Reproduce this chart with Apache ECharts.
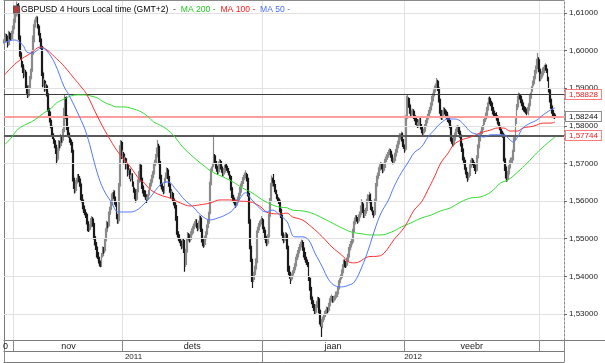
<!DOCTYPE html>
<html><head><meta charset="utf-8">
<script src="https://cdn.jsdelivr.net/npm/echarts@6/dist/echarts.min.js"></script>
<style>html,body{margin:0;padding:0;background:#fff}#c{width:605px;height:363px}</style>
</head><body><div id="c"></div>
<script>
// ---- axis labels / layout of the time table ----
const monthLabels = ['0','nov','dets','jaan','veebr',''];
const monthBars = [9,102,131,133,127,23];
const yearLabels = ['2011','2012'];
const yearBars = [242,283];
const yTicks = [1.53,1.54,1.55,1.56,1.57,1.58,1.59,1.60,1.61];
const yMin = 1.5231, yMax = 1.6134;
const levels = [1.58828, 1.58244, 1.57744];

// ---- 4h candles, values in pips above 1.5000 ----
const firstOpen = 1020;
const closes = [
1028,1038,1030,1016,1045,1038,1032,1046,1058,1075,
1092,1112,1122,1098,1030,985,962,950,935,942,
905,893,880,902,925,945,990,1030,1068,1080,
1086,1065,1045,1030,1010,940,910,918,898,905,
885,845,830,810,795,772,760,748,732,712,
735,755,748,770,762,785,840,875,820,790,
775,762,755,735,660,640,628,648,655,665,
658,645,610,598,580,570,565,545,528,525,
532,548,552,540,505,490,478,458,448,436,
428,455,472,468,495,520,540,535,565,578,
590,612,622,608,592,560,548,640,740,755,
720,725,705,712,690,695,672,680,660,668,
645,630,612,605,625,650,672,695,660,640,
628,620,612,605,610,622,640,650,662,672,
695,700,718,735,745,705,665,640,632,628,
655,668,682,665,645,630,615,620,605,595,
588,555,512,505,495,488,480,495,470,432,
465,495,510,505,498,512,520,532,538,545,
535,528,540,555,525,498,488,485,500,512,
530,545,570,650,685,695,720,705,692,685,
678,698,705,690,682,672,680,695,690,682,
675,665,635,615,608,602,595,590,598,605,
615,630,645,652,662,668,670,660,620,550,
480,445,400,392,405,420,440,520,530,540,
545,550,530,522,505,495,488,505,560,600,
640,660,650,640,625,612,605,600,578,562,
515,502,496,505,510,480,420,405,395,400,
410,418,428,445,452,462,470,478,485,490,
475,458,445,438,432,395,370,345,335,325,
315,305,318,328,340,310,280,268,285,292,
300,305,312,310,322,335,340,345,336,340,
344,352,358,370,388,398,410,425,438,432,
430,442,452,470,478,486,495,525,545,555,
552,548,558,565,580,592,575,562,568,575,
600,610,615,598,578,568,565,600,640,660,
668,682,690,697,690,682,695,710,716,722,
728,732,722,712,705,708,720,730,742,752,
765,772,778,760,745,738,820,865,872,855,
840,830,835,838,826,820,810,802,808,815,
798,788,782,786,798,808,818,825,835,842,
855,872,885,895,905,918,900,870,840,828,
822,835,842,838,835,825,818,808,795,760,
752,762,775,785,792,795,785,775,752,738,
715,705,685,672,662,668,690,702,708,702,
695,688,682,715,742,765,778,785,795,810,
818,828,842,856,872,865,860,848,838,832,
830,822,815,805,795,785,780,775,712,690,
668,658,672,688,702,708,714,735,768,812,
850,872,880,878,868,860,850,845,842,840,
835,848,858,880,898,912,925,940,952,968,
975,950,925,930,936,948,955,960,948,925,
895,870,852,840,832,828,824];
const highs = [
1035,1046,1044,1036,1052,1050,1042,1052,1066,1084,
1100,1118,1130,1126,1104,1040,995,972,958,950,
948,915,900,908,932,952,998,1040,1075,1088,
1092,1090,1070,1052,1036,1015,948,925,922,912,
910,892,852,838,816,800,780,766,755,738,
742,762,760,778,775,792,848,884,878,828,
798,782,768,760,740,668,648,655,662,672,
672,665,650,618,604,588,578,570,552,535,
540,555,560,558,545,512,496,484,465,452,
442,462,480,478,502,528,548,545,572,585,
598,620,630,628,612,598,566,648,748,762,
760,735,730,718,716,702,700,688,686,674,
674,652,636,618,632,658,680,702,698,665,
646,636,628,618,618,630,648,658,670,680,
702,710,725,742,762,752,712,670,648,640,
662,676,690,688,670,650,636,628,625,610,
602,595,560,520,512,502,495,502,500,476,
472,502,518,515,508,520,528,540,546,552,
552,542,548,562,560,530,505,495,508,520,
538,552,578,658,692,702,776,725,710,698,
692,705,712,710,696,688,688,702,700,694,
688,680,670,640,622,615,608,600,605,612,
622,638,652,660,670,676,682,675,665,628,
556,488,452,408,412,428,448,528,538,548,
552,560,555,536,528,510,500,512,566,608,
648,668,672,656,645,630,618,610,605,585,
568,522,508,512,518,516,486,428,412,408,
416,425,435,452,460,470,478,486,492,498,
496,482,465,452,445,438,400,376,352,342,
332,322,325,335,346,345,315,286,292,300,
308,312,320,318,330,342,348,352,348,346,
350,360,365,378,395,405,418,432,445,445,
440,450,460,478,486,494,502,532,552,563,
562,558,565,572,588,605,598,580,575,582,
606,618,625,620,602,585,575,606,648,668,
676,690,698,704,702,694,702,718,724,730,
736,740,738,728,718,715,728,738,750,760,
772,780,785,782,765,750,828,880,882,876,
862,848,842,846,844,832,826,818,815,822,
822,805,795,792,805,815,825,832,842,850,
862,880,892,902,912,927,922,905,875,848,
835,842,850,848,842,840,830,825,815,800,
768,770,782,792,800,802,800,790,780,758,
742,722,710,690,678,675,698,710,715,714,
708,702,695,722,750,772,785,792,802,818,
825,835,850,862,876,878,870,865,852,845,
840,836,828,820,810,800,792,785,780,718,
695,675,680,695,710,716,722,742,775,820,
858,880,888,886,882,872,865,855,852,850,
846,855,865,888,905,920,932,948,960,978,
993,982,955,938,945,955,962,966,963,952,
930,900,875,858,845,838,834];
const lows = [
1012,1022,1024,1008,1012,1030,1026,1026,1040,1052,
1068,1086,1105,1090,1022,975,955,940,926,930,
898,885,874,876,896,918,940,984,1022,1060,
1074,1058,1040,1022,1004,932,902,904,890,892,
878,838,822,800,788,765,752,740,725,698,
705,728,740,742,755,755,780,832,812,782,
768,755,748,728,652,632,620,622,642,648,
650,638,602,590,572,562,555,538,520,518,
520,528,542,532,498,482,470,450,440,428,
424,425,450,460,462,490,514,528,530,558,
570,585,605,600,585,552,540,540,632,732,
712,712,698,700,684,685,665,666,652,655,
638,622,605,596,600,620,645,668,652,632,
620,612,604,595,598,604,615,632,645,655,
665,688,695,712,728,698,658,632,625,618,
620,648,660,658,638,622,608,606,598,588,
580,548,505,496,488,480,472,474,462,412,
425,458,488,498,490,492,505,514,525,532,
528,520,522,535,518,490,480,476,478,494,
505,522,540,565,642,678,690,698,686,678,
670,672,692,684,675,665,665,675,682,675,
668,658,628,608,600,594,588,582,585,592,
598,608,622,638,645,655,660,652,612,540,
472,438,385,369,385,398,412,435,515,522,
532,538,525,515,498,488,480,482,500,552,
594,632,645,632,618,605,598,592,570,555,
508,495,488,490,500,472,412,398,380,388,
392,402,412,422,438,445,455,464,472,478,
468,450,438,430,425,388,362,338,326,316,
308,298,300,312,322,302,272,239,262,278,
285,292,298,302,305,316,328,334,330,330,
334,338,345,352,365,382,392,404,418,425,
422,424,436,446,462,470,480,490,518,538,
545,540,542,550,560,575,568,555,555,560,
570,594,604,590,572,562,556,560,594,632,
652,662,675,684,684,674,676,688,704,710,
715,722,715,705,698,698,702,714,724,735,
745,758,765,752,738,728,732,812,858,848,
832,822,822,828,818,812,802,794,795,800,
790,780,774,776,780,792,800,812,818,828,
835,848,865,878,888,898,892,862,832,820,
815,815,828,830,826,818,810,800,788,752,
745,745,755,768,778,785,778,768,745,730,
708,698,678,664,651,655,662,684,695,695,
688,680,672,678,708,735,758,770,778,788,
802,810,820,835,850,858,852,840,830,825,
822,815,808,798,788,778,772,768,705,680,
660,651,652,665,682,695,700,708,730,762,
805,842,865,870,860,852,842,838,835,832,
828,828,840,852,872,890,905,918,932,945,
960,942,918,918,925,930,940,948,940,918,
888,862,845,832,825,820,818];

// ---- moving averages: [bar index, pips above 1.5000] ----
const ma50 = [[0,1020],[9,1028],[17,1015],[21,996],[26,993],[31,1001],[34,1007],[39,1001],[47,967],[56,903],[60,884],[70,826],[77,778],[87,675],[93,630],[100,598],[107,571],[118,571],[124,576],[130,590],[137,611],[146,643],[153,651],[161,630],[169,603],[177,584],[184,563],[193,550],[200,555],[207,563],[214,576],[220,603],[226,622],[232,603],[239,582],[245,571],[251,576],[258,563],[265,545],[267,531],[272,505],[279,505],[285,497],[291,462],[298,425],[304,391],[310,375],[316,372],[323,377],[328,385],[335,425],[341,470],[347,523],[353,568],[360,603],[365,637],[372,675],[378,701],[384,728],[391,744],[397,770],[403,789],[409,807],[416,818],[421,818],[426,815],[431,802],[437,784],[444,776],[449,770],[456,776],[462,776],[468,776],[474,762],[477,757],[481,770],[486,794],[493,807],[499,815],[505,829],[512,842],[516,847]];
const ma100 = [[0,935],[7,956],[12,969],[19,983],[25,993],[31,1007],[34,1009],[40,1001],[47,983],[53,967],[59,948],[65,927],[72,903],[77,884],[87,826],[96,778],[107,728],[118,691],[127,656],[130,651],[137,630],[146,616],[155,608],[165,595],[174,587],[183,590],[193,595],[202,603],[211,603],[220,600],[230,598],[239,587],[248,568],[258,566],[265,568],[270,558],[279,550],[288,531],[298,505],[307,478],[316,457],[323,438],[327,436],[332,438],[341,452],[351,454],[356,462],[365,497],[375,531],[384,576],[391,598],[397,630],[403,664],[409,701],[416,728],[421,749],[428,762],[437,770],[446,781],[456,789],[462,794],[468,794],[474,786],[481,786],[486,794],[496,799],[505,807],[512,807],[516,810]];
const ma200 = [[0,749],[7,770],[12,789],[19,802],[25,810],[31,821],[37,834],[44,847],[49,861],[56,871],[62,879],[68,882],[74,882],[81,879],[87,874],[93,863],[100,855],[105,850],[112,850],[118,847],[124,842],[130,834],[135,823],[140,810],[149,797],[158,776],[167,744],[177,717],[186,696],[195,677],[205,664],[214,651],[223,635],[232,622],[242,603],[251,590],[258,584],[265,582],[270,576],[279,574],[288,568],[298,555],[307,542],[316,529],[325,518],[335,513],[344,510],[353,510],[363,518],[372,531],[381,542],[391,555],[400,563],[409,574],[418,582],[428,598],[437,608],[446,611],[456,624],[465,648],[472,656],[481,677],[490,701],[499,728],[509,754],[516,770]];

// ---- build ----
const P = v => +(1.5 + v / 10000).toFixed(5);
const categories = [];
const monthStart = [];
monthBars.forEach((n, m) => { monthStart.push(categories.length); for (let k = 0; k < n; k++) categories.push(m + '-' + k); });
const monthLabelAt = {};
monthBars.forEach((n, m) => { const idx = m === 0 ? 1 : monthStart[m] + Math.floor(n / 2); monthLabelAt[idx] = monthLabels[m]; });
const yearStart = []; const yearLabelAt = {};
{ let a = 0; yearBars.forEach((n, y) => { yearStart.push(a); yearLabelAt[a + Math.floor(n / 2)] = yearLabels[y]; a += n; }); }
const mStartSet = new Set(monthStart), yStartSet = new Set(yearStart);

const candles = closes.map((c, i) => {
  const o = i === 0 ? firstOpen : closes[i - 1];
  return [P(o), P(c), P(lows[i]), P(highs[i])];
});
const maLine = arr => arr.map(d => [d[0], P(d[1])]);
const fmt = v => v.toFixed(5).replace('.', ',');
const FF = 'Liberation Sans, Arial, sans-serif';

const levelStyles = [
  {line: {color: '#3a3a3a', width: 1}, text: '#ff1a1a', border: '#ff7a7a'},
  {line: {color: '#ff9c9c', width: 2}, text: '#111', border: '#8a8a8a'},
  {line: {color: '#5a5a5a', width: 2}, text: '#ff1a1a', border: '#ff7a7a'}
];

const chart = echarts.init(document.getElementById('c'), null, {renderer: 'canvas'});
chart.setOption({
  animation: false,
  backgroundColor: '#fff',
  title: {
    left: 9, top: 0,
    text: '{i| }{t|GBPUSD 4 Hours Local time (GMT+2)}{d|  -  }{g|MA 200 -}{d|  }{r|MA 100 -}{d|  }{b|MA 50 -}',
    textStyle: {
      fontSize: 8.6, fontFamily: FF, fontWeight: 'normal',
      rich: {
        i: {width: 5, height: 6, backgroundColor: '#b83a3a', borderColor: '#555', borderWidth: 1, fontSize: 6},
        t: {color: '#000', fontSize: 8.6, fontFamily: FF, padding: [0, 0, 0, 2]},
        d: {color: '#333', fontSize: 8.6, fontFamily: FF},
        g: {color: '#22cc22', fontSize: 8.6, fontFamily: FF},
        r: {color: '#ff2020', fontSize: 8.6, fontFamily: FF},
        b: {color: '#4a6fff', fontSize: 8.6, fontFamily: FF}
      }
    }
  },
  graphic: [{type: 'line', silent: true, z: 10, shape: {x1: 564, y1: 340.5, x2: 605, y2: 340.5}, style: {stroke: '#7a7a7a', lineWidth: 1}}],
  grid: {left: 0, right: 41, top: 0, bottom: 23, containLabel: false},
  xAxis: [
    {
      type: 'category', data: categories, boundaryGap: true, position: 'bottom',
      axisLine: {show: true, lineStyle: {color: '#7a7a7a', width: 1}},
      axisTick: {show: true, inside: false, length: 11, interval: i => mStartSet.has(i), lineStyle: {color: '#8a8a8a'}},
      axisLabel: {show: true, interval: i => (i in monthLabelAt), formatter: (v, i) => monthLabelAt[i] || '', margin: 2, fontSize: 9, color: '#222', fontFamily: FF},
      splitLine: {show: true, interval: i => mStartSet.has(i) && i > 0, lineStyle: {color: '#e2e2e2', width: 1}}
    },
    {
      type: 'category', data: categories, boundaryGap: true, position: 'bottom', offset: 11,
      axisLine: {show: true, lineStyle: {color: '#7a7a7a', width: 1}},
      axisTick: {show: true, inside: false, length: 11, interval: i => yStartSet.has(i), lineStyle: {color: '#8a8a8a'}},
      axisLabel: {show: true, interval: i => (i in yearLabelAt), formatter: (v, i) => yearLabelAt[i] || '', margin: 2, fontSize: 8, color: '#222', fontFamily: FF},
      splitLine: {show: false}
    },
    {
      type: 'category', data: categories, position: 'bottom', offset: 22,
      axisLine: {show: true, lineStyle: {color: '#7a7a7a'}}, axisTick: {show: false}, axisLabel: {show: false}, splitLine: {show: false}
    },
    {
      type: 'category', data: categories, position: 'top',
      axisLine: {show: true, lineStyle: {color: '#8a8a8a'}}, axisTick: {show: false}, axisLabel: {show: false}, splitLine: {show: false}
    }
  ],
  yAxis: [
    {
      type: 'value', position: 'right', min: yMin, max: yMax,
      axisLine: {show: true, lineStyle: {color: '#8a8a8a', type: [2, 2], width: 1}},
      axisTick: {show: true, inside: false, length: 3, customValues: yTicks, lineStyle: {color: '#666'}},
      axisLabel: {show: true, customValues: yTicks, formatter: v => fmt(v), margin: 5, fontSize: 8, color: '#222', fontFamily: FF},
      splitLine: {show: false}
    },
    {
      type: 'value', position: 'left', min: yMin, max: yMax,
      axisLine: {show: true, lineStyle: {color: '#7a7a7a'}}, axisTick: {show: false}, axisLabel: {show: false}, splitLine: {show: false}
    }
  ],
  series: [
    {
      name: 'grid', type: 'line', data: [], z: 1, silent: true,
      markLine: {silent: true, symbol: 'none', precision: 5, label: {show: false}, animation: false,
        lineStyle: {color: '#e2e2e2', type: 'solid', width: 1},
        data: yTicks.map(v => ({yAxis: v}))}
    },
    {
      name: 'GBPUSD', type: 'candlestick', data: candles, z: 3, barWidth: 1.4,
      itemStyle: {color: '#707070', color0: '#000', borderColor: '#8a8a8a', borderColor0: '#1a1a1a', borderWidth: 1.2}
    },
    {
      name: 'levels', type: 'line', data: [], z: 4, silent: true,
      markLine: {silent: true, symbol: 'none', precision: 5, animation: false,
        data: levels.map((v, k) => ({
          yAxis: v,
          lineStyle: Object.assign({type: 'solid'}, levelStyles[k].line),
          label: {show: true, position: 'end', distance: 2, formatter: fmt(v), color: levelStyles[k].text,
            backgroundColor: '#fff', borderColor: levelStyles[k].border, borderWidth: 1, padding: [1, 3, 0, 3],
            fontSize: 8, fontFamily: FF}
        }))}
    },
    {name: 'MA 200', type: 'line', data: maLine(ma200), smooth: 0.4, symbol: 'none', z: 5, lineStyle: {color: '#33dd33', width: 1}},
    {name: 'MA 100', type: 'line', data: maLine(ma100), smooth: 0.4, symbol: 'none', z: 5, lineStyle: {color: '#ff3030', width: 1}},
    {name: 'MA 50', type: 'line', data: maLine(ma50), smooth: 0.4, symbol: 'none', z: 5, lineStyle: {color: '#5078ff', width: 1}}
  ]
});
</script></body></html>
